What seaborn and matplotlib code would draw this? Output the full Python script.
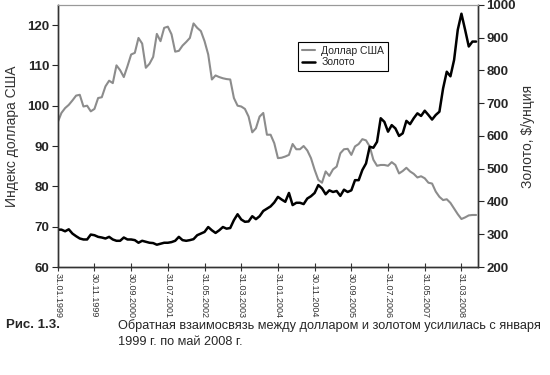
import matplotlib
matplotlib.use("Agg")
import matplotlib.pyplot as plt
import seaborn as sns
import pandas as pd
import numpy as np

# Индекс доллара США (помесячно, янв. 1999 - ...)
dollar = [95.9, 98.2, 99.4, 100.2, 101.3, 102.5, 102.7, 99.8, 100.0, 98.6,
          99.2, 101.9, 102.1, 104.8, 106.2, 105.6, 110.0, 108.8, 107.1, 109.8,
          112.7, 113.1, 116.8, 115.4, 109.4, 110.4, 112.1, 117.8, 116.0, 119.3,
          119.6, 117.7, 113.4, 113.6, 114.9, 115.8, 116.8, 120.4, 119.3, 118.5,
          116.0, 112.7, 106.5, 107.5, 107.1, 106.8, 106.6, 106.5, 101.9, 100.0,
          99.8, 99.2, 97.3, 93.4, 94.4, 97.3, 98.2, 92.8, 92.8, 90.7,
          87.0, 87.1, 87.4, 87.8, 90.5, 89.2, 89.2, 90.0, 88.9, 87.0,
          84.1, 81.6, 80.9, 83.7, 82.6, 84.2, 84.9, 88.2, 89.2, 89.3,
          87.8, 89.9, 90.5, 91.7, 91.4, 89.9, 86.6, 85.1, 85.3, 85.3,
          85.1, 86.0, 85.3, 83.2, 83.8, 84.6, 83.7, 83.1, 82.2, 82.5,
          82.0, 80.9, 80.7, 78.7, 77.4, 76.6, 76.8, 75.9, 74.5, 73.1,
          71.9, 72.3, 72.8, 72.9, 72.9]

# Золото, $/унция
gold = [314, 314, 309, 315, 302, 294, 287, 284, 284, 299,
        297, 292, 290, 287, 292, 284, 280, 280, 290, 284,
        284, 282, 274, 280, 277, 274, 273, 268, 271, 274,
        274, 276, 280, 292, 282, 280, 282, 285, 297, 302,
        307, 322, 312, 304, 312, 322, 317, 319, 343, 361,
        345, 338, 339, 355, 346, 355, 371, 378, 385, 397,
        414, 406, 399, 426, 389, 396, 396, 392, 409, 416,
        426, 450, 440, 422, 434, 429, 432, 417, 436, 429,
        434, 465, 465, 496, 516, 567, 564, 582, 654, 643,
        613, 633, 623, 600, 608, 646, 636, 654, 669, 661,
        677, 664, 650, 664, 674, 745, 796, 782, 832, 924,
        973, 924, 873, 888, 888]

tick_labels = ["31.01.1999", "30.11.1999", "30.09.2000", "31.07.2001",
               "31.05.2002", "31.03.2003", "31.01.2004", "30.11.2004",
               "30.09.2005", "31.07.2006", "31.05.2007", "31.03.2008"]

df = pd.DataFrame({"month": np.arange(len(dollar)), "dollar": dollar, "gold": gold})

sns.set_style("ticks")
plt.rcParams["font.family"] = ["Liberation Sans", "DejaVu Sans"]

fig = plt.figure(figsize=(5.5, 3.75), dpi=100)
ax = fig.add_axes([0.105, 0.288, 0.764, 0.699])
ax2 = ax.twinx()

sns.lineplot(data=df, x="month", y="dollar", ax=ax, color="#8c8c8c", lw=1.5,
             label="Доллар США", legend=False)
sns.lineplot(data=df, x="month", y="gold", ax=ax2, color="black", lw=1.8,
             label="Золото", legend=False)

ax.set_xlim(0, 114.5)
ax.set_ylim(60, 125)
ax2.set_ylim(200, 1000)
ax.set_yticks(range(60, 121, 10))
ax2.set_yticks(range(200, 1001, 100))
ax.set_xticks(range(0, 111, 10))
ax.set_xticklabels(tick_labels, rotation=270, fontsize=6.5, color="#333333")

for a in (ax, ax2):
    for lbl in a.get_yticklabels():
        lbl.set_fontweight("bold")
        lbl.set_fontsize(9.5)
    a.spines["top"].set_color("#999999")
    for s in ("left", "right", "bottom"):
        a.spines[s].set_color("#333333")
        a.spines[s].set_linewidth(1.0)

ax.tick_params(axis="x", direction="inout", length=6, pad=1, colors="#333333")
ax.tick_params(axis="y", direction="out", length=4, pad=2)
ax2.tick_params(axis="y", direction="out", length=4, pad=2)

ax.set_xlabel("")
ax.set_ylabel("Индекс доллара США", fontsize=10, color="#333333", labelpad=6)
ax2.set_ylabel("Золото, $/унция", fontsize=10, color="#333333", labelpad=4)

h1, l1 = ax.get_legend_handles_labels()
h2, l2 = ax2.get_legend_handles_labels()
leg = ax2.legend(h1 + h2, l1 + l2, loc="upper left", bbox_to_anchor=(0.56, 0.88),
                 frameon=True, fancybox=False, edgecolor="black", framealpha=1,
                 handlelength=1.2, handletextpad=0.6, borderpad=0.4,
                 labelspacing=0.15, prop={"size": 7.5})
leg.get_frame().set_linewidth(0.8)

fig.text(0.01, 0.133, "Рис. 1.3.", fontsize=9.5, fontweight="bold", va="center")
fig.text(0.215, 0.133, "Обратная взаимосвязь между долларом и золотом усилилась с января",
         fontsize=9.2, va="center")
fig.text(0.215, 0.088, "1999 г. по май 2008 г.", fontsize=9.2, va="center")

fig.savefig("out.png", dpi=100)
